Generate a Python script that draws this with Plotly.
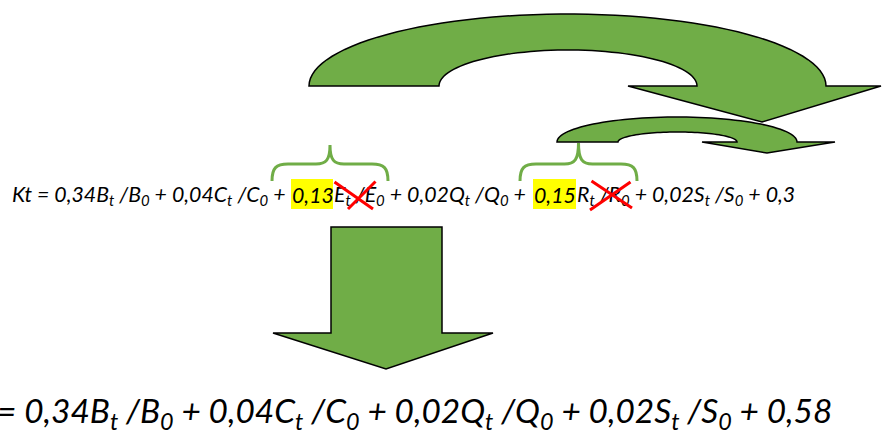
import numpy as np
import plotly.graph_objects as go

# ---- content (equation terms) ----
variables = ["B", "C", "E", "Q", "R", "S"]
coefficients = ["0,34", "0,04", "0,13", "0,02", "0,15", "0,02"]
constant = "0,3"
removed = ["E", "R"]
reduced_variables = ["B", "C", "Q", "S"]
reduced_coefficients = ["0,34", "0,04", "0,02", "0,02"]
reduced_constant = "0,58"

GREEN = "#70AD47"
W, H = 883, 432


def term(var):
    return f"{var}<sub>t</sub> /{var}<sub>0</sub>"


fig = go.Figure()
fig.update_layout(
    width=W, height=H, margin=dict(l=0, r=0, t=0, b=0),
    paper_bgcolor="white", plot_bgcolor="white", showlegend=False,
    xaxis=dict(range=[0, W], visible=False, fixedrange=True),
    yaxis=dict(range=[H, 0], visible=False, fixedrange=True),
)


def arc(cx, cy, rx, ry, t0, t1, n=60):
    t = np.linspace(t0, t1, n)
    return [(cx + rx * np.cos(a), cy - ry * np.sin(a)) for a in t]


def curved_arrow(outer, inner, head):
    (ocx, ocy, orx, ory) = outer
    (icx, icy, irx, iry) = inner
    pts = arc(ocx, ocy, orx, ory, np.pi, 0)
    pts += head
    pts += arc(icx, icy, irx, iry, 0, np.pi)
    return "M " + " L ".join(f"{x:.2f},{y:.2f}" for x, y in pts) + " Z"


shape_line = dict(color="black", width=1.5)

# big curved arrow
fig.add_shape(type="path", xref="x", yref="y",
              path=curved_arrow((567.5, 86, 258.5, 72), (568, 86, 129, 36),
                                [(881, 86), (762, 122), (628, 86)]),
              fillcolor=GREEN, line=shape_line)
# small curved arrow
fig.add_shape(type="path", xref="x", yref="y",
              path=curved_arrow((677, 142, 120, 25), (677.5, 142, 59.5, 10),
                                [(835, 142), (767, 153), (702, 142)]),
              fillcolor=GREEN, line=shape_line)
# down arrow
down = [(331, 227), (442, 227), (442, 333), (493, 333), (386, 369), (273, 333), (331, 333)]
fig.add_shape(type="path", xref="x", yref="y",
              path="M " + " L ".join(f"{x},{y}" for x, y in down) + " Z",
              fillcolor=GREEN, line=shape_line)


def brace(x0, x1, tip_y, base_y=181, side_y=164):
    xm = (x0 + x1) / 2
    return (f"M {x0},{base_y} C {x0},{side_y+4} {x0+4},{side_y} {x0+16},{side_y} "
            f"L {xm-14},{side_y} C {xm-4},{side_y} {xm},{side_y-4} {xm},{tip_y} "
            f"C {xm},{side_y-4} {xm+4},{side_y} {xm+14},{side_y} "
            f"L {x1-16},{side_y} C {x1-4},{side_y} {x1},{side_y+4} {x1},{base_y}")


fig.add_shape(type="path", xref="x", yref="y", path=brace(272, 388, 145),
              line=dict(color=GREEN, width=3))
fig.add_shape(type="path", xref="x", yref="y", path=brace(520, 637, 143),
              line=dict(color=GREEN, width=3))

# yellow highlights
for x0, x1 in [(291, 333), (533, 576)]:
    fig.add_shape(type="rect", xref="x", yref="y", x0=x0, x1=x1, y0=179, y1=209,
                  fillcolor="#FFFF00", line=dict(width=0), layer="below")

# ---- top equation, split at highlighted coefficients ----
font_top = dict(family="Lato", size=21.3, color="black", style="italic")
idx_E = variables.index("E")
idx_R = variables.index("R")
seg1 = "Kt = " + " + ".join(f"{coefficients[i]}{term(variables[i])}" for i in range(idx_E)) + " +"
seg2 = coefficients[idx_E]
seg3 = term(variables[idx_E]) + " + " + " + ".join(
    f"{coefficients[i]}{term(variables[i])}" for i in range(idx_E + 1, idx_R)) + " +"
seg4 = coefficients[idx_R]
seg5 = term(variables[idx_R]) + " + " + " + ".join(
    f"{coefficients[i]}{term(variables[i])}" for i in range(idx_R + 1, len(variables))) + f" + {constant}"

y_top = 195
for x, txt in [(11, seg1), (291, seg2), (333, seg3), (533, seg4), (576, seg5)]:
    fig.add_annotation(x=x, y=y_top, xref="x", yref="y", text=txt, showarrow=False,
                       xanchor="left", yanchor="middle", font=font_top, borderpad=0)

# red crosses over removed terms
for (ax, ay, x, y) in [(333, 181, 373, 209), (377, 180, 348, 209),
                       (590, 180, 632, 208), (632, 181, 590, 210)]:
    fig.add_annotation(x=x, y=y, ax=ax, ay=ay, xref="x", yref="y", axref="x", ayref="y",
                       text="", showarrow=True, arrowhead=0, arrowwidth=3,
                       arrowcolor="#FF0000", standoff=0, startstandoff=0)

# ---- bottom (reduced) equation ----
bottom = "= " + " + ".join(f"{c}{term(v)}" for c, v in zip(reduced_coefficients, reduced_variables)) \
         + f" + {reduced_constant}"
fig.add_annotation(x=834, y=412, xref="x", yref="y", text=bottom, showarrow=False,
                   xanchor="right", yanchor="middle",
                   font=dict(family="Lato", size=33.4, color="black", style="italic"))

fig.write_html("out.html", config={"displayModeBar": False},
               post_script="document.body.style.margin='0';document.body.style.overflow='hidden';")
